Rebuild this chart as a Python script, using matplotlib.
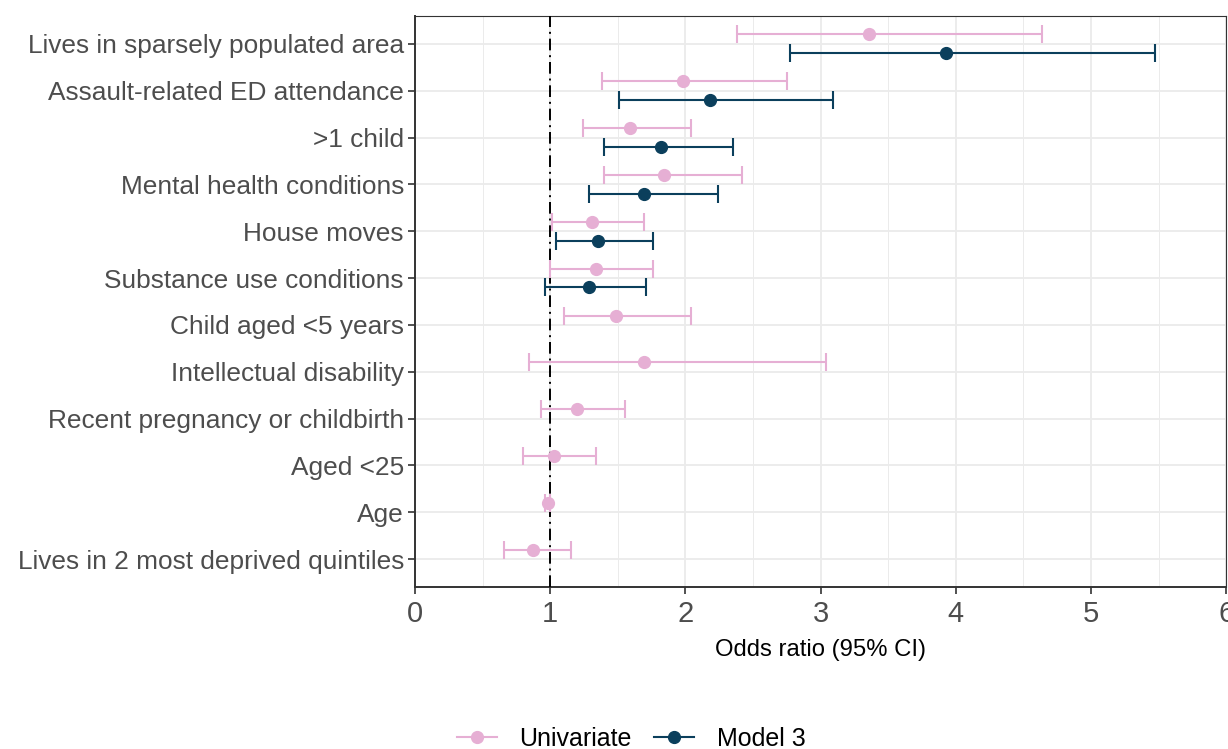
import matplotlib.pyplot as plt
import numpy as np
from matplotlib.lines import Line2D

plt.rcParams["font.family"] = ["Liberation Sans", "DejaVu Sans"]

# Data (top to bottom as shown)
labels = [
    "Lives in sparsely populated area",
    "Assault-related ED attendance",
    ">1 child",
    "Mental health conditions",
    "House moves",
    "Substance use conditions",
    "Child aged <5 years",
    "Intellectual disability",
    "Recent pregnancy or childbirth",
    "Aged <25",
    "Age",
    "Lives in 2 most deprived quintiles",
]

uni_or = [3.36, 1.98, 1.59, 1.84, 1.31, 1.34, 1.49, 1.69, 1.20, 1.03, 0.98, 0.87]
uni_lo = [2.38, 1.38, 1.24, 1.40, 1.01, 1.00, 1.10, 0.84, 0.93, 0.80, 0.96, 0.66]
uni_hi = [4.64, 2.75, 2.04, 2.42, 1.69, 1.76, 2.04, 3.04, 1.55, 1.34, 1.00, 1.15]

# Model 3 only for the first six rows
m3_or = [3.93, 2.18, 1.82, 1.69, 1.35, 1.29]
m3_lo = [2.77, 1.51, 1.40, 1.29, 1.04, 0.96]
m3_hi = [5.47, 3.09, 2.35, 2.24, 1.76, 1.71]

pink = "#E6AFD4"
navy = "#0B3F5C"
grey_txt = "#4D4D4D"

n = len(labels)
ypos = np.arange(n, 0, -1)  # top row gets the largest value
dodge = 0.2

fig = plt.figure(figsize=(12.28, 7.49), dpi=100)
ax = fig.add_axes([0.338, 0.216, 0.6605, 0.763])

# grid
ax.set_axisbelow(True)
for v in np.arange(0.5, 6, 1.0):
    ax.axvline(v, color="#EBEBEB", lw=0.7, zorder=0)
for v in range(0, 7):
    ax.axvline(v, color="#EBEBEB", lw=1.3, zorder=0)
for y in ypos:
    ax.axhline(y, color="#EBEBEB", lw=1.3, zorder=0)

ax.axvline(1, color="black", lw=1.4, linestyle=(0, (6, 2.5, 1, 2.5)), zorder=3)

# Univariate
y_uni = ypos + dodge
ax.errorbar(uni_or, y_uni,
            xerr=[np.array(uni_or) - np.array(uni_lo), np.array(uni_hi) - np.array(uni_or)],
            fmt="o", color=pink, ms=8.5, elinewidth=1.5, capsize=6.6, capthick=1.5, zorder=4)

# Model 3
y_m3 = ypos[:len(m3_or)] - dodge
ax.errorbar(m3_or, y_m3,
            xerr=[np.array(m3_or) - np.array(m3_lo), np.array(m3_hi) - np.array(m3_or)],
            fmt="o", color=navy, ms=8.5, elinewidth=1.5, capsize=6.6, capthick=1.5, zorder=5)

ax.set_xlim(0, 6)
ax.set_ylim(0.4, n + 0.6)
ax.set_yticks(ypos)
ax.set_yticklabels(labels, fontsize=18.9, color=grey_txt)
ax.set_xticks(range(0, 7))
ax.set_xticklabels([str(i) for i in range(0, 7)], fontsize=21, color=grey_txt)
ax.tick_params(axis="both", length=5, width=1.2, color="#333333")
ax.tick_params(axis="y", pad=3)
ax.tick_params(axis="x", pad=4)
ax.set_xlabel("Odds ratio (95% CI)", fontsize=17.2, color="black", labelpad=8)

for side in ["left", "bottom"]:
    ax.spines[side].set_color("#333333")
    ax.spines[side].set_linewidth(1.4)
for side in ["top", "right"]:
    ax.spines[side].set_color("#333333")
    ax.spines[side].set_linewidth(0.8)

handles = [
    Line2D([], [], color=pink, marker="o", ms=8.5, lw=1.5),
    Line2D([], [], color=navy, marker="o", ms=8.5, lw=1.5),
]
fig.legend(handles, ["Univariate", "Model 3"], loc="center",
           bbox_to_anchor=(0.514, 0.014), ncol=2, frameon=False, fontsize=18,
           handlelength=1.6, columnspacing=0.9, handletextpad=0.9,
           borderpad=0.2)

fig.savefig("out.png", dpi=100)
